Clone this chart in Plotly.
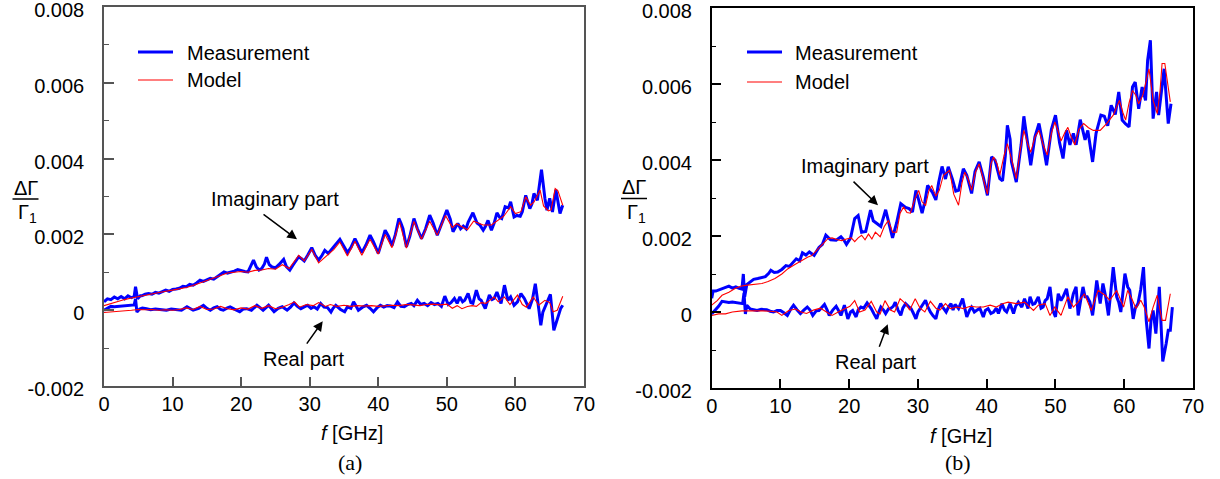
import plotly.graph_objects as go

W, H = 1220, 479
SCALE = 1e-3  # values below are in units of 1e-3

# ---------------- Panel (a) ----------------
a_im_meas_f = [0.0, 0.5, 1.0, 1.5, 2.0, 2.5, 3.0, 3.5, 4.0, 4.4, 4.6, 4.9, 5.3, 5.5, 6.0, 6.5, 7.0, 7.5, 8.0, 8.5,
               9.0, 9.5, 10.0, 10.5, 11.0, 11.5, 12.0, 12.5, 13.0, 13.5, 14.0, 14.5, 15.0, 15.5, 16.0, 16.5, 17.0,
               17.5, 18.0, 18.5, 19.0, 19.5, 20.0, 20.5, 21.0, 21.5, 21.8, 22.2, 22.6, 23.0, 23.4, 23.7, 24.1, 24.5,
               25.0, 25.5, 26.2, 26.6, 27.1, 27.6, 28.4, 28.8, 29.2, 29.7, 30.3, 30.8, 31.3, 31.8, 32.2, 32.7, 33.5,
               34.4, 35.0, 35.5, 36.0, 36.6, 37.1, 37.6, 38.2, 38.8, 39.3, 40.0, 40.5, 41.0, 41.5, 42.0, 42.5, 43.0,
               43.3, 43.6, 44.1, 44.6, 45.2, 45.7, 46.3, 46.9, 47.5, 48.0, 48.6, 49.3, 50.0, 50.5, 50.9, 51.3, 51.6,
               52.0, 52.4, 52.8, 53.1, 53.8, 54.1, 54.4, 54.8, 55.3, 55.6, 56.0, 56.5, 56.9, 57.3, 57.7, 58.0, 58.5,
               59.0, 59.3, 59.8, 60.2, 60.7, 61.0, 61.5, 62.1, 62.4, 62.7, 63.2, 63.8, 64.3, 64.6, 65.0, 65.4, 65.9,
               66.2, 66.5, 66.9]
a_im_meas = [0.22, 0.30, 0.28, 0.35, 0.30, 0.36, 0.30, 0.38, 0.33, 0.36, 0.62, 0.30, 0.38, 0.38, 0.42, 0.44, 0.42,
             0.47, 0.45, 0.50, 0.53, 0.50, 0.55, 0.56, 0.58, 0.63, 0.62, 0.68, 0.66, 0.72, 0.79, 0.76, 0.80, 0.84,
             0.82, 0.88, 0.95, 1.01, 0.98, 1.00, 1.03, 1.07, 1.04, 1.02, 1.01, 1.18, 1.32, 1.15, 1.06, 1.10, 1.22,
             1.40, 1.20, 1.14, 1.12, 1.20, 1.34, 1.15, 1.06, 1.20, 1.41, 1.36, 1.30, 1.45, 1.65, 1.45, 1.32, 1.45,
             1.58, 1.50, 1.67, 1.87, 1.68, 1.52, 1.65, 1.89, 1.70, 1.52, 1.72, 1.98, 1.80, 1.50, 1.80, 2.11, 1.95,
             1.70, 2.00, 2.42, 2.30, 2.15, 1.67, 1.95, 2.42, 2.15, 1.89, 2.15, 2.51, 2.30, 1.98, 2.30, 2.64, 2.40,
             2.07, 2.20, 2.29, 2.15, 2.22, 2.15, 2.32, 2.57, 2.45, 2.30, 2.25, 2.11, 2.20, 2.37, 2.11, 2.30, 2.57,
             2.45, 2.42, 2.73, 2.70, 2.86, 2.46, 2.50, 2.48, 2.60, 3.03, 2.68, 2.80, 3.08, 2.90, 3.71, 2.95, 2.64,
             2.95, 2.59, 3.18, 2.90, 2.55, 2.77]

a_im_model_f = [0, 1, 2, 3, 4, 5, 6, 7, 8, 9, 10, 11, 12, 13, 14, 15, 16, 17, 18, 19, 20, 21, 22, 23, 24, 25, 26,
                27, 28.4, 29.2, 30.3, 31.3, 32.5, 33.5, 34.4, 35.5, 36.6, 37.6, 38.8, 40.0, 41.0, 42.0, 43.1, 44.1,
                45.2, 46.3, 47.5, 48.6, 49.8, 50.8, 51.4, 52.4, 53.0, 53.9, 54.6, 55.3, 56.5, 57.3, 58.3, 59.3,
                60.0, 60.8, 61.5, 62.2, 62.7, 63.6, 64.1, 64.8, 65.2, 65.8, 66.2, 66.9]
a_im_model = [0.12, 0.18, 0.23, 0.28, 0.32, 0.36, 0.40, 0.43, 0.46, 0.50, 0.53, 0.56, 0.60, 0.65, 0.72, 0.78, 0.84,
              0.92, 0.98, 1.00, 1.02, 1.00, 1.05, 1.06, 1.10, 1.08, 1.20, 1.10, 1.45, 1.30, 1.60, 1.25, 1.45, 1.60,
              1.80, 1.43, 1.82, 1.45, 1.87, 1.48, 2.00, 1.65, 2.33, 1.64, 2.34, 1.87, 2.35, 1.98, 2.50, 2.18, 2.28,
              2.18, 2.12, 2.35, 2.30, 2.25, 2.25, 2.35, 2.48, 2.73, 2.55, 2.60, 2.99, 2.77, 2.85, 3.17, 2.75, 2.62,
              2.65, 3.21, 3.15, 2.77]

a_re_meas_f = [0.0, 0.5, 1.0, 1.5, 2.0, 2.5, 3.0, 3.5, 4.0, 4.4, 4.6, 4.8, 5.2, 5.6, 6.2, 6.8, 7.5, 8.2, 9.1, 9.8,
               10.6, 11.3, 12.1, 12.6, 13.0, 13.8, 14.5, 15.0, 15.5, 16.0, 16.5, 17.0, 17.4, 18.0, 18.4, 19.0, 19.8,
               20.3, 20.8, 21.5, 22.3, 22.8, 23.2, 24.0, 24.4, 24.8, 25.4, 26.0, 26.7, 27.2, 27.7, 28.2, 28.7, 29.2,
               29.7, 30.2, 30.6, 31.1, 31.6, 32.1, 32.6, 33.1, 33.4, 33.8, 34.2, 34.5, 35.1, 35.5, 36.0, 36.4, 36.8,
               37.1, 37.7, 38.3, 38.8, 39.3, 39.8, 40.3, 40.8, 41.3, 41.8, 42.3, 42.8, 43.3, 43.8, 44.3, 44.8, 45.2,
               45.7, 46.2, 46.7, 47.2, 47.7, 48.2, 48.7, 49.2, 49.7, 50.2, 50.6, 51.1, 51.5, 51.9, 52.3, 52.6, 53.1,
               53.5, 53.8, 54.3, 54.7, 55.0, 55.6, 56.2, 56.6, 56.9, 57.3, 57.9, 58.4, 58.9, 59.3, 59.8, 60.3, 60.8,
               61.3, 62.0, 62.5, 62.9, 63.4, 63.7, 64.0, 64.3, 65.1, 65.6, 66.0, 66.3, 66.6, 66.9]
a_re_meas = [0.00, 0.06, 0.10, 0.09, 0.10, 0.11, 0.12, 0.12, 0.13, 0.14, 0.30, -0.05, 0.03, 0.06, 0.04, 0.01, 0.03,
             0.01, 0.00, 0.03, 0.01, 0.00, 0.09, 0.04, 0.00, 0.05, 0.13, 0.05, 0.00, 0.06, 0.09, 0.02, 0.00, 0.06,
             0.09, 0.03, -0.04, 0.03, 0.04, 0.00, 0.13, 0.06, 0.00, 0.13, 0.05, -0.04, 0.05, 0.09, 0.00, 0.08, 0.19,
             0.10, 0.04, 0.08, 0.13, 0.05, 0.09, 0.03, 0.18, 0.08, 0.07, -0.05, 0.05, 0.13, 0.07, 0.02, -0.04, 0.09,
             0.05, 0.22, 0.10, 0.00, 0.08, 0.13, 0.05, -0.04, 0.06, 0.13, 0.08, 0.12, 0.11, 0.07, 0.22, 0.10, 0.09,
             0.15, 0.18, 0.12, 0.26, 0.15, 0.18, 0.12, 0.20, 0.15, 0.18, 0.10, 0.37, 0.15, 0.20, 0.31, 0.18, 0.35,
             0.22, 0.26, 0.44, 0.20, 0.18, 0.53, 0.30, 0.26, 0.04, 0.40, 0.28, 0.31, 0.48, 0.18, 0.66, 0.26, 0.35,
             0.13, 0.22, 0.44, 0.31, 0.04, 0.30, 0.70, 0.04, -0.40, -0.05, 0.09, 0.42, -0.53, -0.30, -0.18, 0.05,
             0.13]

a_re_model_f = [0, 1, 2, 3, 4, 5, 6, 7, 8, 9, 10, 11, 12, 13, 14, 15, 16, 17, 18, 19, 20, 21, 22, 23, 24, 25, 26,
                27, 27.8, 28.5, 29.5, 30.5, 31.3, 32.3, 33.0, 34.0, 35.0, 36.0, 37.0, 38.0, 39.0, 40.0, 41.0, 42.0,
                43.0, 44.0, 45.0, 46.0, 47.0, 48.0, 49.0, 50.0, 50.8, 51.5, 52.2, 53.0, 53.7, 54.3, 55.0, 55.7,
                56.9, 57.5, 58.4, 59.2, 60.3, 61.0, 61.6, 62.6, 63.4, 64.3, 65.0, 65.5, 66.1, 66.9]
a_re_model = [-0.06, -0.05, -0.03, -0.01, 0.00, 0.02, 0.01, 0.02, 0.00, 0.01, 0.00, 0.02, 0.06, 0.02, 0.10, 0.02,
              0.03, 0.10, 0.04, 0.01, 0.06, 0.03, 0.12, 0.05, 0.12, 0.04, 0.08, 0.15, 0.22, 0.08, 0.15, 0.12, 0.20,
              0.10, 0.15, 0.10, 0.13, 0.10, 0.12, 0.11, 0.12, 0.10, 0.12, 0.13, 0.12, 0.15, 0.14, 0.12, 0.15, 0.16,
              0.14, 0.16, 0.05, 0.12, 0.04, 0.10, 0.12, 0.10, 0.20, 0.18, 0.35, 0.22, 0.35, 0.15, 0.40, 0.15, 0.08,
              0.35, 0.13, 0.26, 0.20, -0.04, 0.00, 0.37]

# ---------------- Panel (b) ----------------
b_im_meas_f = [0.0, 0.2, 0.6, 1.0, 1.5, 2.0, 2.5, 3.0, 3.5, 4.0, 4.4, 4.6, 4.8, 5.1, 5.5, 6.1, 6.7, 7.3, 7.8, 8.3,
               8.6, 9.1, 9.6, 10.2, 10.8, 11.3, 11.8, 12.3, 12.8, 13.2, 13.7, 14.2, 14.9, 15.6, 16.1, 16.6, 17.0,
               17.3, 18.1, 18.8, 19.2, 19.6, 20.2, 20.8, 21.3, 21.8, 22.4, 23.1, 23.5, 23.9, 24.6, 25.3, 25.8, 26.3,
               26.9, 27.5, 28.2, 28.7, 29.2, 29.7, 30.1, 30.6, 31.0, 31.4, 32.1, 32.6, 33.0, 33.5, 34.0, 34.4, 35.0,
               35.5, 35.9, 36.6, 37.1, 37.8, 38.3, 38.9, 39.5, 40.1, 40.7, 41.2, 41.9, 42.3, 42.7, 43.0, 43.4, 43.6,
               44.3, 45.0, 45.4, 45.8, 46.4, 47.0, 47.6, 48.2, 48.7, 49.4, 50.0, 50.6, 51.1, 51.6, 52.1, 52.6, 53.0,
               53.6, 54.3, 54.7, 55.4, 55.9, 56.6, 57.1, 57.6, 58.1, 58.7, 59.2, 59.7, 60.2, 60.7, 61.2, 61.6, 62.1,
               62.6, 63.1, 63.4, 63.8, 64.0, 64.2, 64.7, 65.0, 65.8, 66.4, 66.8]
b_im_meas = [0.36, 0.55, 0.55, 0.58, 0.62, 0.66, 0.68, 0.63, 0.66, 0.62, 0.60, 1.00, 0.40, 0.72, 0.78, 0.86, 0.88,
             0.90, 0.93, 1.02, 1.10, 1.04, 1.05, 1.12, 1.22, 1.20, 1.30, 1.40, 1.35, 1.56, 1.50, 1.58, 1.49, 1.70,
             1.78, 2.02, 1.95, 1.90, 1.89, 1.98, 1.90, 1.78, 1.95, 2.46, 2.54, 2.10, 2.12, 2.68, 2.40, 2.35, 2.25,
             2.69, 2.35, 1.95, 2.35, 2.85, 2.75, 2.72, 2.63, 3.20, 2.95, 2.60, 2.90, 3.33, 3.15, 2.95, 3.40, 3.83,
             3.50, 3.82, 3.50, 3.18, 3.20, 3.77, 3.60, 3.12, 3.70, 3.95, 3.55, 3.07, 4.08, 4.00, 3.51, 3.45, 4.10,
             4.91, 4.55, 3.95, 3.42, 4.40, 5.15, 4.60, 3.86, 4.60, 4.96, 4.40, 3.86, 4.80, 5.18, 4.45, 4.04, 4.78,
             4.40, 4.70, 4.40, 5.06, 4.53, 4.78, 3.95, 4.70, 5.18, 5.15, 4.90, 5.44, 5.20, 5.79, 5.05, 4.95, 4.87,
             5.92, 6.05, 5.35, 5.92, 5.57, 6.62, 7.15, 6.10, 5.09, 5.79, 5.18, 6.40, 4.96, 5.48]

b_im_model_f = [0.0, 0.8, 1.5, 2.5, 3.4, 4.2, 4.9, 6.0, 7.3, 8.2, 9.2, 10.2, 11.1, 12.1, 13.1, 14.0, 14.5, 15.2,
                16.0, 16.9, 17.5, 18.3, 18.9, 19.6, 20.3, 20.8, 21.3, 21.8, 22.3, 22.8, 23.3, 23.8, 24.5, 25.1,
                25.7, 26.3, 26.9, 27.4, 27.9, 28.4, 28.9, 29.5, 30.1, 30.6, 31.1, 31.6, 32.0, 32.6, 33.1, 33.7,
                34.6, 35.2, 35.9, 36.4, 36.8, 37.3, 37.8, 38.4, 38.9, 39.5, 40.1, 40.6, 41.0, 41.5, 41.9, 42.5,
                43.0, 43.5, 44.3, 44.9, 45.4, 46.0, 46.4, 47.0, 47.6, 48.2, 48.8, 49.4, 49.9, 50.4, 50.8, 51.3,
                51.8, 52.3, 52.8, 53.4, 54.1, 54.8, 55.5, 56.5, 57.4, 58.4, 59.3, 59.8, 60.2, 60.7, 61.2, 61.7,
                62.1, 62.7, 63.2, 63.6, 64.2, 64.8, 65.2, 65.5, 65.9, 66.3, 66.7]
b_im_model = [0.18, 0.30, 0.44, 0.52, 0.62, 0.68, 0.70, 0.72, 0.75, 0.80, 0.88, 1.00, 1.14, 1.25, 1.36, 1.45, 1.48,
              1.60, 1.76, 1.93, 1.95, 1.90, 1.88, 1.92, 1.95, 1.85, 1.95, 2.02, 1.90, 2.05, 1.92, 2.10, 1.98, 2.25,
              2.41, 2.10, 2.10, 2.60, 2.76, 2.62, 2.60, 2.95, 3.20, 2.90, 2.80, 3.20, 3.33, 3.05, 3.20, 3.60, 3.73,
              3.10, 2.81, 3.40, 3.68, 3.50, 3.20, 3.70, 3.90, 3.50, 3.10, 3.90, 4.08, 3.90, 3.60, 4.10, 4.43, 4.10,
              3.51, 4.30, 4.78, 4.40, 4.20, 4.60, 4.78, 4.40, 4.13, 4.70, 5.00, 4.75, 4.50, 4.70, 4.86, 4.60, 4.40,
              4.80, 4.96, 4.85, 4.78, 4.78, 4.95, 5.18, 5.57, 5.25, 5.05, 5.50, 5.83, 5.70, 5.48, 5.70, 6.10, 6.40,
              5.57, 5.22, 5.80, 6.54, 6.54, 6.00, 5.53]

b_re_meas_f = [0.0, 0.5, 1.0, 1.5, 2.0, 2.5, 3.0, 3.5, 4.0, 4.5, 4.7, 4.9, 5.1, 5.6, 6.1, 6.6, 7.2, 8.0, 8.5, 9.0,
               9.5, 10.0, 10.5, 11.0, 11.5, 11.9, 12.4, 12.9, 13.4, 13.9, 14.3, 14.7, 15.2, 15.6, 16.0, 16.4, 16.8,
               17.1, 17.6, 18.1, 18.5, 18.8, 19.3, 19.8, 20.2, 20.5, 21.0, 21.3, 21.7, 22.1, 22.6, 23.2, 23.6, 24.0,
               24.3, 24.6, 25.0, 25.3, 25.7, 26.0, 26.4, 26.7, 27.1, 27.5, 27.8, 28.2, 28.6, 29.0, 29.3, 29.7, 30.0,
               30.3, 30.7, 31.1, 31.4, 31.8, 32.2, 32.6, 32.9, 33.3, 33.7, 34.1, 34.5, 34.8, 35.1, 35.4, 35.9, 36.5,
               37.1, 37.5, 37.8, 38.2, 38.5, 39.0, 39.5, 39.8, 40.2, 40.6, 41.0, 41.4, 41.7, 42.2, 42.6, 42.9, 43.4,
               43.9, 44.2, 44.6, 45.1, 45.5, 46.0, 46.3, 46.7, 47.0, 47.5, 47.9, 48.2, 48.5, 48.8, 49.2, 49.6, 50.0,
               50.4, 50.8, 51.1, 51.6, 52.1, 52.6, 53.0, 53.3, 53.7, 54.0, 54.3, 54.6, 55.0, 55.4, 55.7, 56.0, 56.5,
               56.9, 57.3, 57.7, 58.0, 58.4, 58.9, 59.2, 59.5, 59.8, 60.1, 60.5, 60.8, 61.3, 61.6, 62.0, 62.4, 62.8,
               63.2, 63.6, 63.9, 64.2, 64.6, 65.1, 65.4, 65.6, 66.1, 66.4, 66.7, 67.0]
b_re_meas = [-0.05, 0.05, 0.15, 0.28, 0.27, 0.25, 0.26, 0.24, 0.24, 0.22, 0.50, -0.05, 0.18, 0.08, 0.06, 0.04, 0.07,
             0.06, 0.02, 0.00, 0.04, 0.04, -0.02, -0.09, 0.08, 0.18, 0.06, -0.04, 0.05, 0.13, 0.05, -0.09, 0.03,
             0.04, 0.12, 0.20, 0.05, -0.09, 0.05, 0.15, 0.02, -0.09, 0.18, -0.18, 0.00, 0.04, -0.13, 0.05, 0.13,
             0.10, 0.24, 0.09, -0.05, -0.18, 0.00, 0.13, 0.05, -0.04, 0.08, 0.09, 0.15, 0.26, 0.05, -0.09, 0.10,
             0.22, 0.15, 0.09, -0.02, -0.18, 0.00, 0.09, 0.20, 0.31, 0.15, 0.00, -0.10, -0.18, 0.05, 0.22, 0.10,
             0.00, 0.15, 0.22, 0.05, 0.20, 0.09, 0.35, -0.13, 0.05, 0.13, 0.00, 0.04, 0.10, -0.13, 0.04, 0.09,
             -0.04, 0.00, 0.10, -0.04, 0.22, 0.05, 0.00, 0.22, -0.04, 0.15, 0.26, 0.13, 0.35, 0.09, 0.40, 0.20,
             0.22, 0.40, 0.10, 0.13, 0.30, 0.35, 0.66, 0.04, -0.13, 0.48, 0.30, 0.40, 0.61, 0.09, 0.48, 0.66,
             -0.09, 0.35, 0.66, 0.40, 0.40, 0.26, -0.09, 0.35, 0.83, 0.22, 0.75, 0.40, -0.09, 0.45, 1.18, 0.40,
             0.26, 0.00, 0.50, 1.01, 0.66, 0.57, -0.18, 0.10, 0.22, 0.60, 1.18, -0.22, -0.96, -0.20, 0.04, -0.57,
             0.66, -0.40, -1.30, -0.83, -0.48, -0.48, 0.13]

b_re_model_f = [0.0, 1.0, 2.0, 3.0, 4.4, 5.5, 6.5, 7.5, 8.5, 9.5, 10.2, 11.2, 12.2, 13.0, 13.8, 14.8, 15.8, 16.6,
                17.5, 18.4, 19.3, 20.1, 20.8, 21.5, 22.3, 23.2, 24.0, 24.5, 25.2, 26.0, 26.6, 27.4, 28.3, 28.8,
                29.6, 30.3, 31.0, 31.8, 32.6, 33.2, 34.0, 34.7, 35.7, 36.6, 37.6, 38.5, 39.5, 40.5, 41.4, 42.3,
                43.1, 44.3, 45.5, 46.8, 47.5, 48.5, 49.2, 49.9, 50.8, 51.8, 52.6, 53.3, 54.2, 55.2, 56.2, 57.2,
                57.9, 58.9, 59.9, 60.5, 61.2, 61.7, 62.4, 62.9, 63.6, 64.2, 64.8, 65.5, 66.0, 66.7]
b_re_model = [-0.09, -0.05, -0.05, 0.00, 0.03, 0.03, 0.04, 0.03, 0.02, 0.00, -0.09, 0.04, 0.08, 0.00, -0.04, 0.05,
              0.10, 0.02, -0.09, 0.00, 0.08, 0.15, 0.30, 0.00, 0.05, 0.28, 0.00, -0.05, 0.30, 0.05, 0.00, 0.35,
              0.20, 0.05, 0.35, 0.10, 0.00, 0.28, 0.10, 0.05, 0.22, 0.09, 0.13, 0.09, 0.15, 0.13, 0.13, 0.18, 0.13,
              0.22, 0.26, 0.22, 0.26, 0.04, 0.18, 0.22, -0.09, 0.13, -0.09, 0.40, 0.13, 0.26, 0.48, 0.04, 0.57,
              0.44, 0.31, 0.57, 0.13, 0.57, 0.31, 0.09, 0.31, 0.13, -0.26, 0.13, 0.44, -0.22, -0.22, 0.48]

x_ticks = [0, 10, 20, 30, 40, 50, 60, 70]
y_ticks = [-0.002, 0.0, 0.002, 0.004, 0.006, 0.008]
y_tick_text = ["-0.002", "0", "0.002", "0.004", "0.006", "0.008"]

BLUE = "#0000FF"
RED = "#FF0000"
FONT = "Liberation Sans, Arial, Helvetica, sans-serif"


def scaled(vals):
    return [v * SCALE for v in vals]


fig = go.Figure()

panels = [
    ("x", "y", [(a_im_meas_f, a_im_meas), (a_re_meas_f, a_re_meas)],
     [(a_im_model_f, a_im_model), (a_re_model_f, a_re_model)]),
    ("x2", "y2", [(b_im_meas_f, b_im_meas), (b_re_meas_f, b_re_meas)],
     [(b_im_model_f, b_im_model), (b_re_model_f, b_re_model)]),
]
for xa, ya, meas, model in panels:
    for f, v in meas:
        fig.add_trace(go.Scatter(x=f, y=scaled(v), mode="lines", xaxis=xa, yaxis=ya,
                                 line=dict(color=BLUE, width=3), showlegend=False, hoverinfo="skip"))
    for f, v in model:
        fig.add_trace(go.Scatter(x=f, y=scaled(v), mode="lines", xaxis=xa, yaxis=ya,
                                 line=dict(color=RED, width=1.1), showlegend=False, hoverinfo="skip"))


def px(x):
    return x / W


def py(y):
    return 1 - y / H


def xaxis_def(domain, color, anchor):
    return dict(domain=domain, range=[0, 70], tickvals=x_ticks, ticks="inside", ticklen=9, tickwidth=1.5,
                tickcolor=color, showline=True, linecolor=color, linewidth=1.5, mirror=True,
                showgrid=False, zeroline=False, tickfont=dict(family=FONT, size=20, color="black"),
                ticklabelstandoff=-1, anchor=anchor, automargin=False, ticklabeloverflow="allow")


def yaxis_def(domain, color, anchor):
    return dict(domain=domain, range=[-0.002, 0.008], tickvals=y_ticks, ticktext=y_tick_text, ticks="inside",
                ticklen=10, tickwidth=1.5, tickcolor=color, showline=True, linecolor=color, linewidth=1.5,
                mirror=True, showgrid=False, zeroline=False,
                tickfont=dict(family=FONT, size=20, color="black"), ticklabelstandoff=14, ticklabelshift=3,
                anchor=anchor, automargin=False, ticklabeloverflow="allow",
                minor=dict(dtick=0.001, tick0=0.001, ticks="inside", ticklen=5, tickwidth=1.2, tickcolor=color,
                           showgrid=False))


xa1 = xaxis_def([px(104), px(584)], "#555555", "y")
ya1 = yaxis_def([py(386), py(7)], "#555555", "x")
xa2 = xaxis_def([px(711.7), px(1193)], "#000000", "y2")
ya2 = yaxis_def([py(388), py(8)], "#000000", "x2")

annotations = []
shapes = []


def text(x, y, s, size=20, family=FONT, xanchor="center"):
    annotations.append(dict(x=px(x), y=py(y), xref="paper", yref="paper", text=s, showarrow=False,
                            font=dict(family=family, size=size, color="black"), xanchor=xanchor,
                            yanchor="middle"))


# legends
for (x0, x1, yl1, yl2, xt) in [(138, 173, 52, 80, 185), (747, 782, 52, 82, 793)]:
    shapes.append(dict(type="line", xref="paper", yref="paper", x0=px(x0), x1=px(x1), y0=py(yl1), y1=py(yl1),
                       line=dict(color=BLUE, width=3)))
    shapes.append(dict(type="line", xref="paper", yref="paper", x0=px(x0), x1=px(x1), y0=py(yl2), y1=py(yl2),
                       line=dict(color=RED, width=1.1)))
    text(xt, yl1 + 1, "Measurement", xanchor="left")
    text(xt, yl2, "Model", xanchor="left")

# y-axis label fraction
for (cx, ytop, ybar, ybot) in [(25.5, 188, 199, 213), (634, 187, 198.5, 213)]:
    text(cx, ytop, "ΔΓ", size=20)
    text(cx + 2, ybot, "Γ<sub>1</sub>", size=20)
    shapes.append(dict(type="line", xref="paper", yref="paper", x0=px(cx - 13), x1=px(cx + 13),
                       y0=py(ybar), y1=py(ybar), line=dict(color="black", width=1.5)))

# x titles and panel labels
text(352, 433, "<i>f</i> [GHz]")
text(961, 436, "<i>f</i> [GHz]")
text(350, 462, "(a)", size=22, family="Liberation Serif, Times New Roman, serif")
text(958, 462, "(b)", size=22, family="Liberation Serif, Times New Roman, serif")

# curve labels
text(275, 199, "Imaginary part")
text(304, 359, "Real part")
text(865, 166, "Imaginary part")
text(876, 362, "Real part")


def arrow(xref, yref, fx, fy, ax, ay):
    annotations.append(dict(x=fx, y=fy, xref=xref, yref=yref, text="", showarrow=True, arrowhead=2,
                            arrowsize=1.3, arrowwidth=1.5, arrowcolor="black", ax=ax, ay=ay, standoff=0))


arrow("x", "y", 28.15, 0.00187, -35, -26)
arrow("x", "y", 31.9, -0.00029, -17, 24)
arrow("x2", "y2", 24.19, 0.00281, -26, -25)
arrow("x2", "y2", 25.6, -0.00032, -9, 24)

fig.update_layout(width=W, height=H, autosize=False, margin=dict(l=0, r=0, t=0, b=0, autoexpand=False),
                  paper_bgcolor="white", plot_bgcolor="white", showlegend=False,
                  xaxis=xa1, yaxis=ya1, xaxis2=xa2, yaxis2=ya2,
                  annotations=annotations, shapes=shapes)

fig.write_html("out.html", config={"displayModeBar": False},
               post_script="document.body.style.margin='0';document.body.style.padding='0';"
                           "document.body.style.overflow='hidden';")
